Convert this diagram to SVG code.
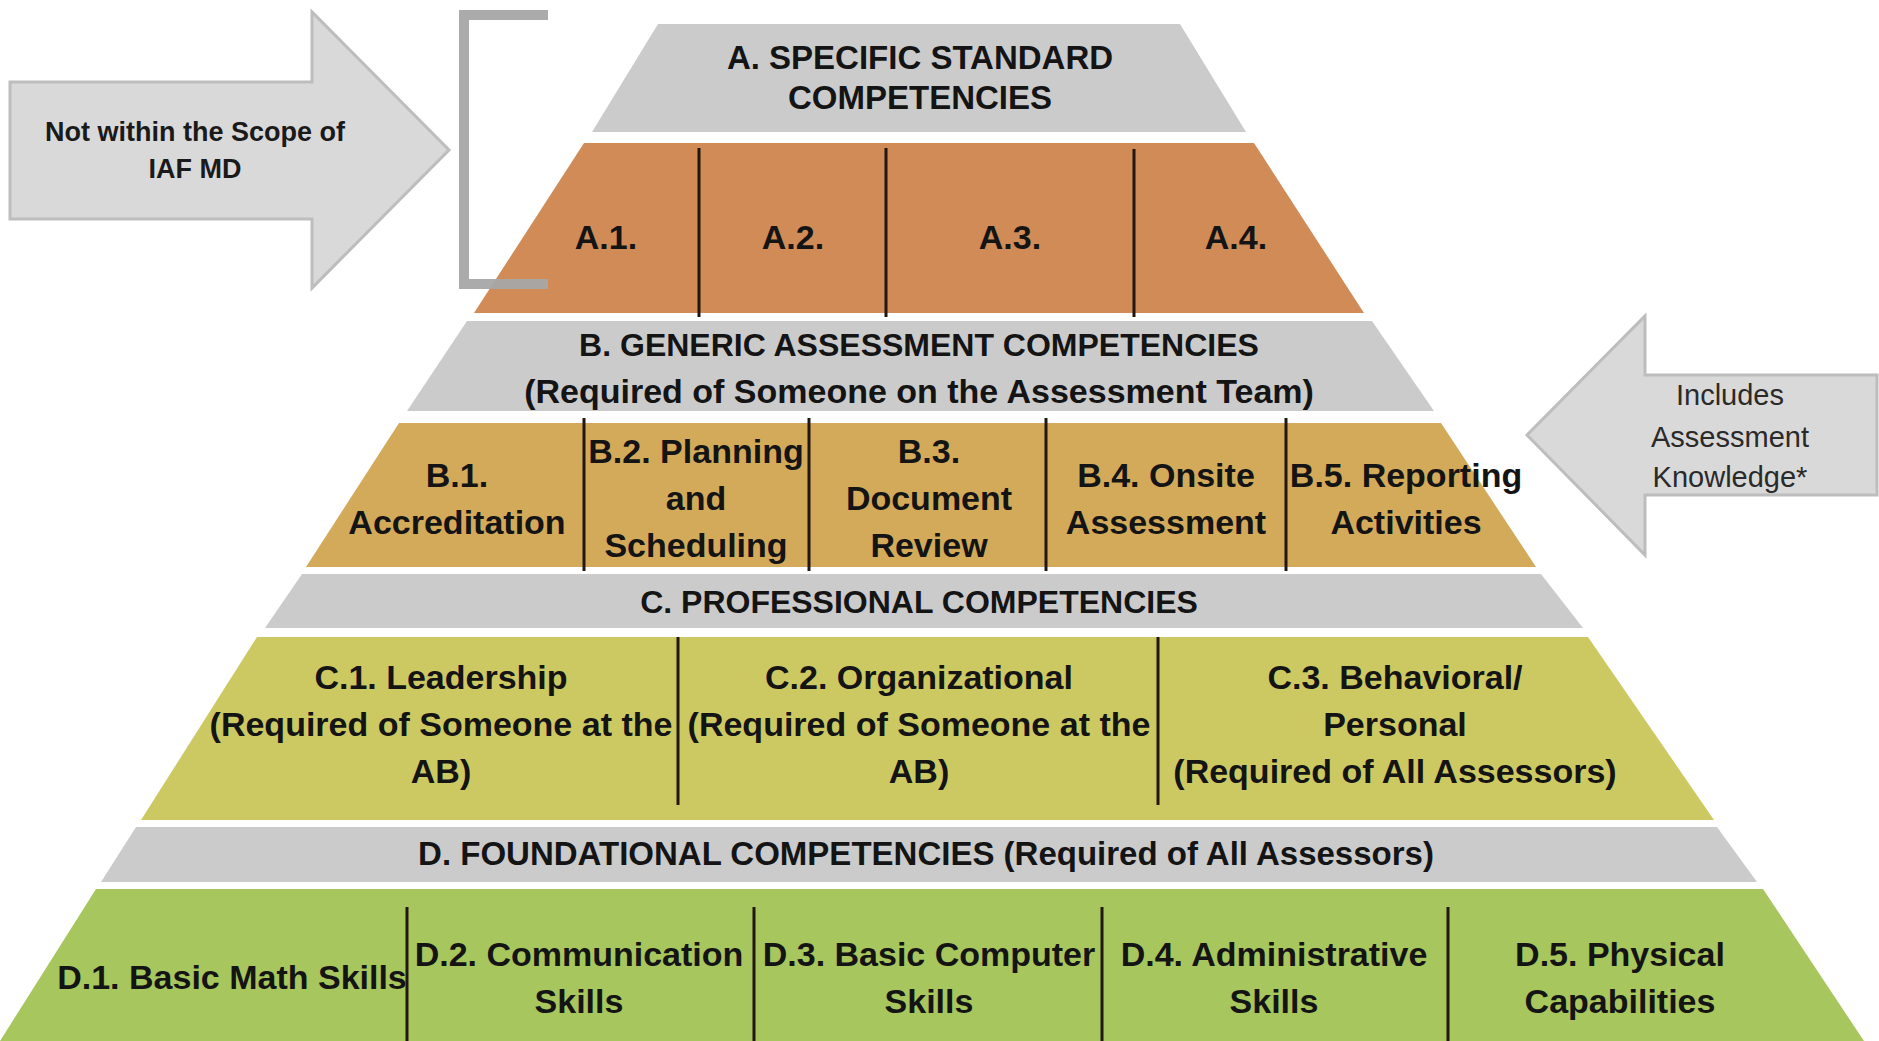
<svg xmlns="http://www.w3.org/2000/svg" width="1879" height="1041" viewBox="0 0 1879 1041">
<style>
  .gray { fill: #cbcbcc; }
  .orange { fill: #d08b57; }
  .tan { fill: #d3aa5a; }
  .olive { fill: #cdc962; }
  .green { fill: #a7c65d; }
  .arrow { fill: #d9d9d9; stroke: #bdbdbd; stroke-width: 3; }
  .t { font-family: "Liberation Sans", Arial, sans-serif; font-weight: bold; font-size: 34px; fill: #141414; text-anchor: middle; }
  .h { font-size: 32px; }
  .ta { font-family: "Liberation Sans", Arial, sans-serif; font-weight: bold; font-size: 27px; fill: #1a1a1a; text-anchor: middle; }
  .tb { font-family: "Liberation Sans", Arial, sans-serif; font-size: 29px; fill: #2a2a2a; text-anchor: middle; }
  .div { stroke: #21170f; stroke-width: 3; fill: none; }
</style>
<rect width="1879" height="1041" fill="#ffffff"/>

<g id="arrow-not-within-scope">
  <polygon class="arrow" points="10,82 312,82 312,12 449,150 312,288 312,219 10,219"/>
  <text class="ta" x="195" y="141">Not within the Scope of</text>
  <text class="ta" x="195" y="178">IAF MD</text>
</g>

<g id="band-a-header">
  <polygon class="gray" points="658,24 1180,24 1246,132 592,132"/>
  <text class="t" x="920" y="69" style="font-size:33px">A. SPECIFIC STANDARD</text>
  <text class="t" x="920" y="109" style="font-size:33px">COMPETENCIES</text>
</g>

<g id="band-a-cells">
  <polygon class="orange" points="584,143 1254,143 1364,313 474,313"/>
  <g id="a1"><text class="t" x="606" y="249">A.1.</text></g>
  <g id="a2"><text class="t" x="793" y="249">A.2.</text></g>
  <g id="a3"><text class="t" x="1010" y="249">A.3.</text></g>
  <g id="a4"><text class="t" x="1236" y="249">A.4.</text></g>
</g>

<g id="band-b-header">
  <polygon class="gray" points="467,321 1372,321 1434,411 407,411"/>
  <text class="t h" x="919" y="356">B. GENERIC ASSESSMENT COMPETENCIES</text>
  <text class="t" x="919" y="403">(Required of Someone on the Assessment Team)</text>
</g>

<g id="band-b-cells">
  <polygon class="tan" points="399,423 1441,423 1536,567 306,567"/>
  <g id="b1">
    <text class="t" x="457" y="487">B.1.</text>
    <text class="t" x="457" y="534">Accreditation</text>
  </g>
  <g id="b2">
    <text class="t" x="696" y="463">B.2. Planning</text>
    <text class="t" x="696" y="510">and</text>
    <text class="t" x="696" y="557">Scheduling</text>
  </g>
  <g id="b3">
    <text class="t" x="929" y="463">B.3.</text>
    <text class="t" x="929" y="510">Document</text>
    <text class="t" x="929" y="557">Review</text>
  </g>
  <g id="b4">
    <text class="t" x="1166" y="487">B.4. Onsite</text>
    <text class="t" x="1166" y="534">Assessment</text>
  </g>
  <g id="b5">
    <text class="t" x="1406" y="487">B.5. Reporting</text>
    <text class="t" x="1406" y="534">Activities</text>
  </g>
</g>

<g id="band-c-header">
  <polygon class="gray" points="302,574 1541,574 1583,628 265,628"/>
  <text class="t h" x="919" y="613">C. PROFESSIONAL COMPETENCIES</text>
</g>

<g id="band-c-cells">
  <polygon class="olive" points="257,637 1588,637 1714,820 141,820"/>
  <g id="c1">
    <text class="t" x="441" y="689">C.1. Leadership</text>
    <text class="t" x="441" y="736">(Required of Someone at the</text>
    <text class="t" x="441" y="783">AB)</text>
  </g>
  <g id="c2">
    <text class="t" x="919" y="689">C.2. Organizational</text>
    <text class="t" x="919" y="736">(Required of Someone at the</text>
    <text class="t" x="919" y="783">AB)</text>
  </g>
  <g id="c3">
    <text class="t" x="1395" y="689">C.3. Behavioral/</text>
    <text class="t" x="1395" y="736">Personal</text>
    <text class="t" x="1395" y="783">(Required of All Assessors)</text>
  </g>
</g>

<g id="band-d-header">
  <polygon class="gray" points="136,827 1717,827 1757,882 101,882"/>
  <text class="t" x="926" y="865" style="font-size:33px">D. FOUNDATIONAL COMPETENCIES (Required of All Assessors)</text>
</g>

<g id="band-d-cells">
  <polygon class="green" points="96,889 1763,889 1864,1041 0,1041"/>
  <g id="d1"><text class="t" x="232" y="989">D.1. Basic Math Skills</text></g>
  <g id="d2">
    <text class="t" x="579" y="966">D.2. Communication</text>
    <text class="t" x="579" y="1013">Skills</text>
  </g>
  <g id="d3">
    <text class="t" x="929" y="966">D.3. Basic Computer</text>
    <text class="t" x="929" y="1013">Skills</text>
  </g>
  <g id="d4">
    <text class="t" x="1274" y="966">D.4. Administrative</text>
    <text class="t" x="1274" y="1013">Skills</text>
  </g>
  <g id="d5">
    <text class="t" x="1620" y="966">D.5. Physical</text>
    <text class="t" x="1620" y="1013">Capabilities</text>
  </g>
</g>

<g id="connectors">
  <g id="dividers">
    <line class="div" x1="699" y1="148" x2="699" y2="317"/>
    <line class="div" x1="886" y1="148" x2="886" y2="317"/>
    <line class="div" x1="1134" y1="149" x2="1134" y2="317"/>
    <line class="div" x1="584" y1="418" x2="584" y2="571"/>
    <line class="div" x1="809" y1="418" x2="809" y2="571"/>
    <line class="div" x1="1046" y1="418" x2="1046" y2="571"/>
    <line class="div" x1="1286" y1="418" x2="1286" y2="571"/>
    <line class="div" x1="678" y1="637" x2="678" y2="805"/>
    <line class="div" x1="1158" y1="637" x2="1158" y2="805"/>
    <line class="div" x1="407" y1="907" x2="407" y2="1041"/>
    <line class="div" x1="754" y1="907" x2="754" y2="1041"/>
    <line class="div" x1="1102" y1="907" x2="1102" y2="1041"/>
    <line class="div" x1="1448" y1="907" x2="1448" y2="1041"/>
  </g>
  <path id="bracket" d="M548,15 H464 V284 H548" fill="none" stroke="#a6a6a6" stroke-width="10" opacity="0.95"/>
</g>

<g id="arrow-includes">
  <polygon class="arrow" points="1527,435 1645,316 1645,375 1877,375 1877,495 1645,495 1645,555"/>
  <text class="tb" x="1730" y="405">Includes</text>
  <text class="tb" x="1730" y="447">Assessment</text>
  <text class="tb" x="1730" y="487">Knowledge*</text>
</g>
</svg>
